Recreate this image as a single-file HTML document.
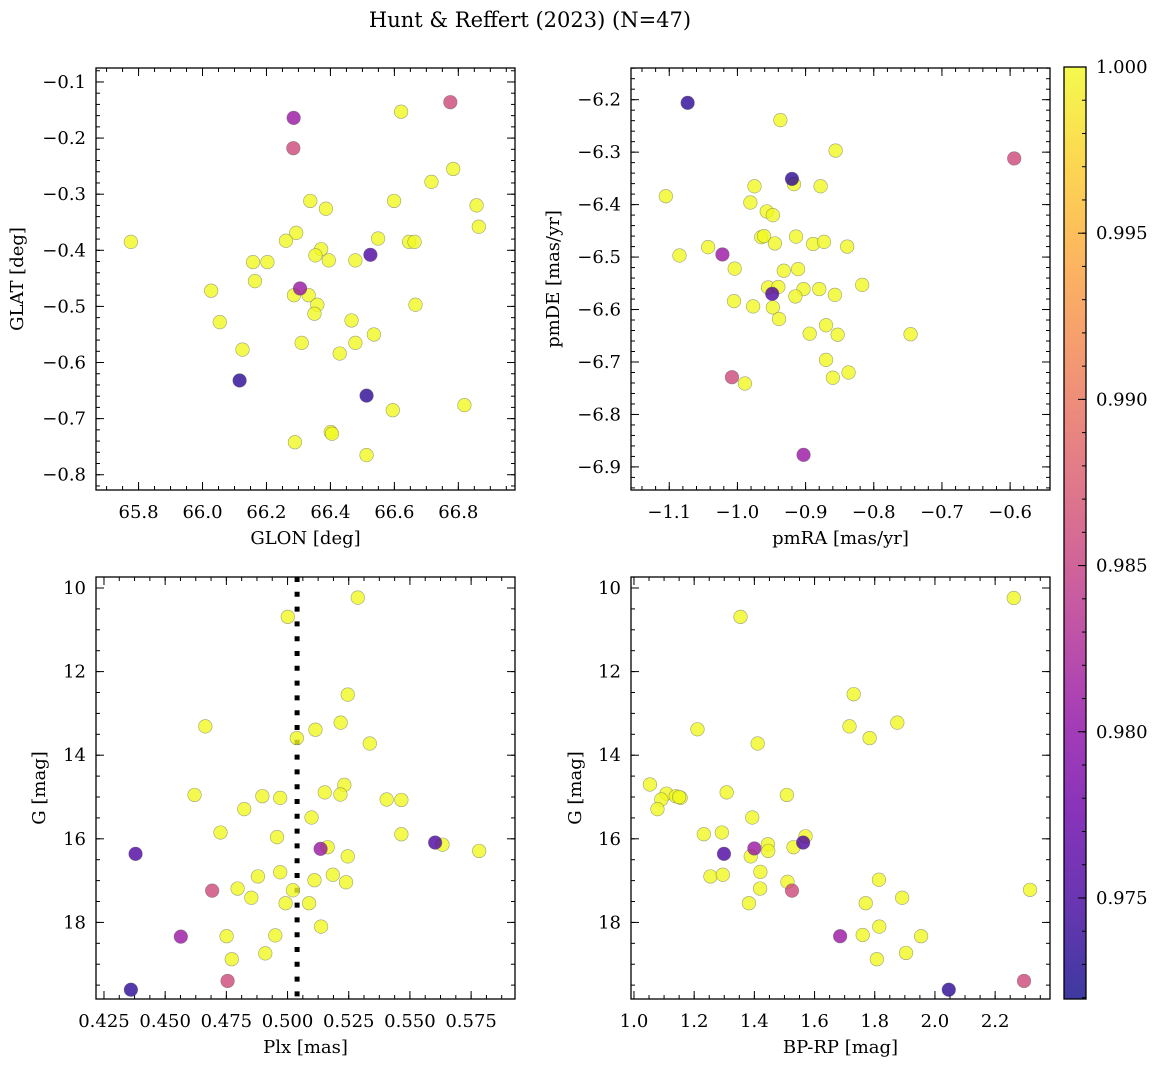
<!DOCTYPE html>
<html><head><meta charset="utf-8"><style>
html,body{margin:0;padding:0;background:#fff;}
svg{display:block;font-family:"DejaVu Serif","Liberation Serif",serif;}
</style></head><body>
<svg id="fig" width="1161" height="1067" viewBox="0 0 1161 1067" xmlns="http://www.w3.org/2000/svg">
<text x="530" y="27" font-size="21" text-anchor="middle">Hunt &amp; Reffert (2023) (N=47)</text>
</svg>
<script>
// ---- data ----
const glon = [66.775,66.285,66.284,66.621,66.784,66.716,66.337,66.386,66.599,66.857,66.864,65.776,66.293,66.261,66.549,66.646,66.663,66.525,66.371,66.353,66.395,66.478,66.158,66.203,66.164,66.027,66.305,66.286,66.332,66.359,66.350,66.666,66.054,66.466,66.536,66.478,66.310,66.429,66.125,66.116,66.513,66.595,66.819,66.401,66.405,66.289,66.513];
const glat = [-0.136,-0.164,-0.218,-0.153,-0.255,-0.278,-0.312,-0.326,-0.312,-0.320,-0.358,-0.385,-0.369,-0.383,-0.379,-0.385,-0.385,-0.408,-0.398,-0.409,-0.418,-0.418,-0.421,-0.421,-0.455,-0.472,-0.468,-0.480,-0.480,-0.497,-0.513,-0.497,-0.528,-0.525,-0.550,-0.565,-0.565,-0.584,-0.577,-0.632,-0.659,-0.685,-0.676,-0.724,-0.727,-0.742,-0.765];
const probA = [0.986,0.981,0.986,1,1,1,1,1,1,1,1,1,1,1,1,1,1,0.9755,1,1,1,1,1,1,1,1,0.981,1,1,1,1,1,1,1,1,1,1,1,1,0.9735,0.9735,1,1,1,1,1,1];

const pmra = [-1.073,-0.937,-0.856,-0.594,-0.920,-0.917,-0.975,-0.878,-1.105,-0.981,-0.957,-0.948,-0.965,-0.961,-0.914,-0.945,-0.889,-0.873,-0.839,-1.043,-1.022,-1.085,-1.004,-0.932,-0.911,-0.955,-0.940,-0.949,-0.903,-0.880,-0.857,-0.817,-0.915,-1.005,-0.977,-0.948,-0.939,-0.870,-0.894,-0.853,-0.746,-0.870,-1.008,-0.989,-0.860,-0.837,-0.903];
const pmde = [-6.206,-6.239,-6.297,-6.312,-6.351,-6.361,-6.365,-6.365,-6.384,-6.396,-6.413,-6.420,-6.462,-6.460,-6.461,-6.474,-6.475,-6.471,-6.480,-6.481,-6.495,-6.497,-6.522,-6.526,-6.523,-6.558,-6.557,-6.570,-6.561,-6.561,-6.572,-6.553,-6.575,-6.584,-6.594,-6.596,-6.618,-6.630,-6.646,-6.648,-6.647,-6.696,-6.729,-6.741,-6.730,-6.720,-6.877];
const probB = [0.9735,1,1,0.986,0.9735,1,1,1,1,1,1,1,1,1,1,1,1,1,1,1,0.981,1,1,1,1,1,1,0.9755,1,1,1,1,1,1,1,1,1,1,1,1,1,1,0.986,1,1,1,0.981];

const plx = [0.5287,0.5001,0.5246,0.4664,0.5217,0.5114,0.5038,0.5336,0.5232,0.5152,0.5216,0.4620,0.4897,0.4970,0.5405,0.5465,0.4823,0.5098,0.4726,0.4957,0.5465,0.5603,0.5633,0.5783,0.4379,0.5135,0.5164,0.5246,0.4970,0.4879,0.5185,0.5110,0.5239,0.4796,0.4692,0.5022,0.4852,0.4992,0.5088,0.5137,0.4564,0.4751,0.4950,0.4909,0.4772,0.4755,0.4360];
const gmagC = [10.23,10.69,12.55,13.31,13.22,13.39,13.59,13.72,14.71,14.89,14.94,14.95,14.98,15.02,15.06,15.07,15.29,15.49,15.85,15.96,15.89,16.09,16.14,16.29,16.36,16.24,16.20,16.42,16.80,16.90,16.86,16.99,17.04,17.19,17.24,17.23,17.41,17.54,17.54,18.10,18.34,18.33,18.31,18.74,18.88,19.40,19.61];
const probC = [1,1,1,1,1,1,1,1,1,1,1,1,1,1,1,1,1,1,1,1,1,0.9755,1,1,0.9755,0.981,1,1,1,1,1,1,1,1,0.986,1,1,1,1,1,0.981,1,1,1,1,0.986,0.9735];
const plxLine = 0.5039;

const bprp = [2.262,1.354,1.730,1.211,1.716,1.875,1.783,1.411,1.053,1.108,1.091,1.078,1.139,1.155,1.308,1.508,1.393,1.232,1.292,1.570,1.562,1.400,1.445,1.446,1.388,1.530,1.299,1.420,1.254,1.295,1.510,1.525,1.419,1.814,2.316,1.891,1.770,1.382,1.815,1.760,1.685,1.954,1.904,1.807,2.296,2.046,1.150];
const gmagD = [10.24,10.69,12.54,13.38,13.31,13.22,13.59,13.72,14.70,14.92,15.06,15.29,14.98,15.02,14.89,14.95,15.49,15.89,15.85,15.94,16.09,16.23,16.13,16.29,16.42,16.20,16.36,16.79,16.90,16.86,17.03,17.24,17.19,16.98,17.22,17.41,17.54,17.54,18.10,18.30,18.33,18.33,18.73,18.88,19.40,19.61,15.00];
const probD = [1,1,1,1,1,1,1,1,1,1,1,1,1,1,1,1,1,1,1,1,0.9755,0.981,1,1,1,1,0.9755,1,1,1,1,0.986,1,1,1,1,1,1,1,1,0.981,1,1,1,0.986,0.9735,1];

const cbTicks = [0.975,0.980,0.985,0.990,0.995,1.000];
const cbMin = 0.97196, cbMax = 1.0;

// ---- helpers ----
const NS = "http://www.w3.org/2000/svg";
const svg = document.getElementById('fig');
function mk(tag, attrs, parent){const e=document.createElementNS(NS,tag);for(const k in attrs)e.setAttribute(k,attrs[k]);(parent||svg).appendChild(e);return e;}
const stops=["#0d0887","#41049d","#6a00a8","#8f0da4","#b12a90","#cc4778","#e16462","#f2844b","#fca636","#fcce25","#f0f921"];
function hx(c){return [parseInt(c.slice(1,3),16),parseInt(c.slice(3,5),16),parseInt(c.slice(5,7),16)];}
function plasma(t){t=Math.max(0,Math.min(1,t));const f=t*10,i=Math.min(9,Math.floor(f)),u=f-i;const a=hx(stops[i]),b=hx(stops[i+1]);return "rgb("+a.map((v,k)=>Math.round(v+(b[k]-v)*u)).join(",")+")";}
function fmt(v,d){return (v<0?"\u2212":"")+Math.abs(v).toFixed(d);}

function panel(o){
  const g=mk('g',{});
  
  
  const X=v=>o.x0+(v-o.xmin)/(o.xmax-o.xmin)*(o.x1-o.x0);
  const Y=v=>o.yinv? o.y0+(v-o.ymin)/(o.ymax-o.ymin)*(o.y1-o.y0) : o.y1-(v-o.ymin)/(o.ymax-o.ymin)*(o.y1-o.y0);
  const tg=mk('g',{stroke:'#000','stroke-width':1},g);
  function rng(a,b,s){const r=[];const n0=Math.ceil(a/s-1e-6),n1=Math.floor(b/s+1e-6);for(let n=n0;n<=n1;n++)r.push(n*s);return r;}
  rng(o.xmin,o.xmax,o.xminor).forEach(v=>{const x=X(v);mk('line',{x1:x,x2:x,y1:o.y1,y2:o.y1-4},tg);mk('line',{x1:x,x2:x,y1:o.y0,y2:o.y0+4},tg);});
  rng(o.ymin,o.ymax,o.yminor).forEach(v=>{const y=Y(v);mk('line',{x1:o.x0,x2:o.x0+4,y1:y,y2:y},tg);mk('line',{x1:o.x1,x2:o.x1-4,y1:y,y2:y},tg);});
  rng(o.xmin,o.xmax,o.xmajor).forEach(v=>{const x=X(v);mk('line',{x1:x,x2:x,y1:o.y1,y2:o.y1-8},tg);mk('line',{x1:x,x2:x,y1:o.y0,y2:o.y0+8},tg);
    const t=mk('text',{x:x,y:o.y1+28,'font-size':18,'text-anchor':'middle'},g);t.textContent=fmt(v,o.xd);
    
    });
  rng(o.ymin,o.ymax,o.ymajor).forEach(v=>{const y=Y(v);mk('line',{x1:o.x0,x2:o.x0+8,y1:y,y2:y},tg);mk('line',{x1:o.x1,x2:o.x1-8,y1:y,y2:y},tg);
    const t=mk('text',{x:o.x0-10,y:y+6,'font-size':18,'text-anchor':'end'},g);t.textContent=fmt(v,o.yd);
    
    });
  if(o.vline!==undefined){const x=X(o.vline);const l=mk('line',{x1:x,x2:x,y1:o.y0,y2:o.y1,stroke:'#000','stroke-width':5,'stroke-dasharray':'5,9.8'},g);
    
    }
  const idx=o.xs.map((_,i)=>i).sort((a,b)=>o.ps[b]-o.ps[a]);
  idx.forEach(i=>{const c=mk('circle',{cx:X(o.xs[i]),cy:Y(o.ys[i]),r:6.8,fill:plasma((o.ps[i]-cbMin)/(cbMax-cbMin)),'fill-opacity':0.8,stroke:'rgba(90,90,90,0.55)','stroke-width':0.6},g);
    
    });
  const fr=mk('rect',{x:o.x0,y:o.y0,width:o.x1-o.x0,height:o.y1-o.y0,fill:'none',stroke:'#000','stroke-width':1.3},g);
  
  
  const xl=mk('text',{x:(o.x0+o.x1)/2,y:o.y1+54,'font-size':18,'text-anchor':'middle'},g);xl.textContent=o.xlabel;
  
  
  const yl=mk('text',{x:0,y:0,'font-size':18,'text-anchor':'middle',transform:`translate(${o.ylx},${(o.y0+o.y1)/2}) rotate(-90)`},g);yl.textContent=o.ylabel;
  
  
}

panel({name:'glon-glat-panel',x0:96,x1:515,y0:68,y1:490,xmin:65.6669,xmax:66.9772,ymin:-0.8272,ymax:-0.0751,xmajor:0.2,xminor:0.05,ymajor:0.1,yminor:0.02,xd:1,yd:1,xs:glon,ys:glat,ps:probA,xlabel:'GLON [deg]',ylabel:'GLAT [deg]',ylx:23});
panel({name:'proper-motion-panel',x0:631,x1:1050,y0:68,y1:490,xmin:-1.1561,xmax:-0.5415,ymin:-6.9440,ymax:-6.1396,xmajor:0.1,xminor:0.02,ymajor:0.1,yminor:0.02,xd:1,yd:1,xs:pmra,ys:pmde,ps:probB,xlabel:'pmRA [mas/yr]',ylabel:'pmDE [mas/yr]',ylx:559});
panel({name:'parallax-magnitude-panel',x0:96,x1:515,y0:577,y1:999,yinv:true,xmin:0.42174,xmax:0.59293,ymin:9.737,ymax:19.832,xmajor:0.025,xminor:0.00625,ymajor:2,yminor:0.5,xd:3,yd:0,xs:plx,ys:gmagC,ps:probC,xlabel:'Plx [mas]',ylabel:'G [mag]',ylx:45,vline:plxLine});
panel({name:'cmd-panel',x0:631,x1:1050,y0:577,y1:999,yinv:true,xmin:0.9901,xmax:2.3823,ymin:9.737,ymax:19.832,xmajor:0.2,xminor:0.05,ymajor:2,yminor:0.5,xd:1,yd:0,xs:bprp,ys:gmagD,ps:probD,xlabel:'BP-RP [mag]',ylabel:'G [mag]',ylx:581});

// colorbar
const defs=mk('defs',{});
const lg=mk('linearGradient',{id:'cbg',x1:0,y1:1,x2:0,y2:0},defs);
for(let k=0;k<=20;k++)mk('stop',{offset:(k/20),'stop-color':plasma(k/20),'stop-opacity':0.8},lg);
const cb=mk('g',{});


const cy0=67,cy1=999,cx0=1064,cx1=1086;
const CY=v=>cy1-(v-cbMin)/(cbMax-cbMin)*(cy1-cy0);
mk('rect',{x:cx0,y:cy0,width:cx1-cx0,height:cy1-cy0,fill:'url(#cbg)',stroke:'#000','stroke-width':1.3},cb);
for(let v=0.972;v<=1.0001;v+=0.001){const y=CY(v);mk('line',{x1:cx1,x2:cx1-4,y1:y,y2:y,stroke:'#000','stroke-width':1},cb);}
cbTicks.forEach(v=>{const y=CY(v);mk('line',{x1:cx1,x2:cx1-8,y1:y,y2:y,stroke:'#000','stroke-width':1},cb);
  const t=mk('text',{x:1096,y:y+6,'font-size':18},cb);t.textContent=v.toFixed(3);
  
  });
</script>
</body></html>
